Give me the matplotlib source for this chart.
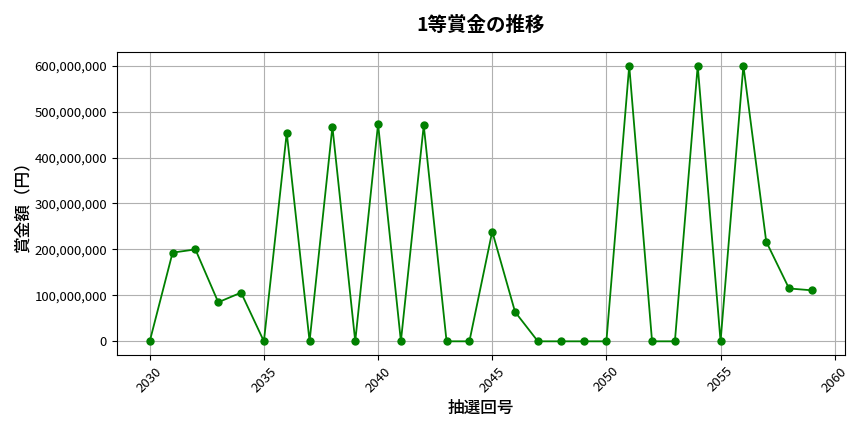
import matplotlib.pyplot as plt
from matplotlib.ticker import FuncFormatter

plt.rcParams['font.family'] = ['Noto Sans CJK JP', 'DejaVu Sans']

# 抽選回号と1等賞金
draws = list(range(2030, 2060))
prizes = [
    0, 193000000, 200000000, 85000000, 106000000,
    0, 454000000, 0, 467000000, 0,
    473000000, 0, 470000000, 0, 0,
    239000000, 64000000, 0, 0, 0,
    0, 600000000, 0, 0, 600000000,
    0, 600000000, 217000000, 115000000, 111000000,
]

fig, ax = plt.subplots(figsize=(8.64, 4.32), dpi=100)
ax.plot(draws, prizes, marker='o', color='green', markersize=5, linewidth=1.3)
ax.set_title('1等賞金の推移', fontsize=14, fontweight='bold', pad=15)
ax.set_xlabel('抽選回号', fontsize=12, fontweight='medium', labelpad=3)
ax.set_ylabel('賞金額（円）', fontsize=12, fontweight='medium', labelpad=2)
ax.yaxis.set_major_formatter(FuncFormatter(lambda v, p: f'{int(v):,}'))
ax.grid(True, color='#b0b0b0', linewidth=0.8)
plt.xticks(rotation=45, fontsize=9.5)
plt.yticks(fontsize=9.5)
plt.subplots_adjust(left=0.135, right=0.978, top=0.880, bottom=0.178)
plt.savefig('out.png')
